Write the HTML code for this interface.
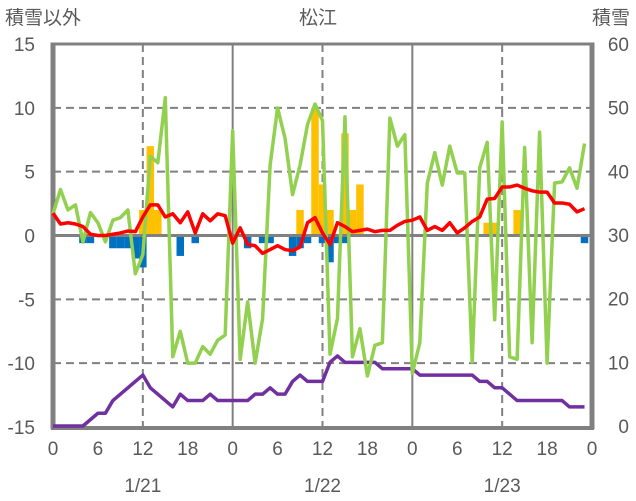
<!DOCTYPE html>
<html><head><meta charset="utf-8">
<style>
html,body{margin:0;padding:0;background:#fff;}
svg{display:block;font-family:"Liberation Sans","Noto Sans CJK JP",sans-serif;}
text{fill:#595959;}
</style></head>
<body>
<svg id="chart" width="636" height="501" viewBox="0 0 636 501" xmlns="http://www.w3.org/2000/svg">
<g id="grid"></g>
<g id="bars"></g>
<g id="frame"></g>
<g id="lines"></g>
<g id="labels"></g>
<text x="5" y="24" font-size="19">積雪以外</text>
<text x="318" y="24" font-size="19" text-anchor="middle">松江</text>
<text x="630" y="24" font-size="19" text-anchor="end">積雪</text>
</svg>
<script>
const hours = [...Array(72).keys()];
const greenVals = [1.7,3.6,2.0,2.4,-0.5,1.8,1.0,-0.5,1.2,1.4,2.0,-3.0,-1.5,6.2,5.7,10.8,-9.5,-7.5,-10,-10,-8.7,-9.3,-8.2,-7.8,
8.2,-9.7,-5.2,-10,-6.5,5.5,10,7.6,3.2,5.5,8.7,10.3,9.0,-9.3,-6.5,9.3,-9.5,-7.3,-11,-8.6,-8.4,9.2,7.0,7.9,
-10.8,-8.4,4.1,6.5,3.95,7.0,4.9,4.9,-9.9,5.3,7.3,-6.6,8.9,-9.5,-9.7,6.9,-8.4,8.1,-10,4.1,4.2,5.3,3.7,7.2];
const redVals = [1.75,0.9,1.0,0.9,0.7,0.1,0,0,0.1,0.2,0.35,0.3,1.45,2.4,2.4,1.45,1.7,1.0,1.85,0.2,1.7,1.15,1.7,1.55,
-0.6,0.6,-0.7,-0.8,-1.4,-1.1,-0.8,-1.1,-1.2,-0.9,1.0,1.4,0.2,-0.7,1.0,0.7,0.3,0.4,0.5,0.3,0.4,0.4,0.8,1.1,
1.2,1.45,0.4,0.7,0.4,1.0,0.2,0.6,1.1,1.45,2.85,2.9,3.8,3.8,3.95,3.7,3.5,3.4,3.4,2.55,2.55,2.45,1.85,2.1];
const snowVals = [0,0,0,0,0,1,2,2,4,5,6,7,8,6,5,4,3,5,4,4,4,5,4,4,
4,4,4,5,5,6,5,5,7,8,7,7,7,10,11,10,10,10,10,10,9,9,9,9,
9,8,8,8,8,8,8,8,8,7,7,6,6,5,4,4,4,4,4,4,4,3,3,3];
const orangeHours = [12,13,14,33,35,36,37,39,40,41,58,59,62];
const orangeVals = [2,7,2,2,10,4,2,8,2,4,1,1,2];
const blueHours = [4,5,8,9,10,11,12,17,19,26,28,29,32,33,34,36,37,38,39,71];
const blueVals = [-0.6,-0.6,-1,-1,-1,-1.8,-2.5,-1.6,-0.6,-1,-0.6,-0.6,-1.6,-1,-0.6,-0.6,-2.1,-0.6,-0.6,-0.6];
const leftTicks = [15,10,5,0,-5,-10,-15];
const rightTicks = [60,50,40,30,20,10,0];
const xTicks = [0,6,12,18,24,30,36,42,48,54,60,66,72];
const xTickLabels = ["0","6","12","18","0","6","12","18","0","6","12","18","0"];
const dateLabels = ["1/21","1/22","1/23"];
const dateHours = [12,36,60];

const L=53,R=592,T=44,B=427;
const NS="http://www.w3.org/2000/svg";
const x = h => L + (R-L)*h/72;
const yL = v => B - (B-T)*(v+15)/30;
const yR = v => B - 1 - (B-1-T)*v/60;
function mk(tag, parent, attrs){const e=document.createElementNS(NS,tag);for(const k in attrs)e.setAttribute(k,attrs[k]);document.getElementById(parent).appendChild(e);return e;}

[10,5,-5,-10].forEach(v=>{
  const e=mk('line','grid',{x1:L,x2:R,y1:yL(v),y2:yL(v),stroke:'#808080','stroke-width':2,'stroke-dasharray':'8,5'});
  
  
});
[12,36,60].forEach(h=>{
  const e=mk('line','grid',{x1:x(h),x2:x(h),y1:T,y2:B,stroke:'#808080','stroke-width':2,'stroke-dasharray':'8,5'});
  
  
});
[24,48].forEach(h=>{
  const e=mk('line','grid',{x1:x(h),x2:x(h),y1:T,y2:B,stroke:'#808080','stroke-width':2});
  
  
});
const bw=(R-L)/72;
orangeHours.forEach((h,i)=>{
  const v=orangeVals[i];
  const e=mk('rect','bars',{x:x(h)-bw/2,width:bw,y:yL(v),height:yL(0)-yL(v),fill:'#FFC000'});
  
  
});
blueHours.forEach((h,i)=>{
  const v=blueVals[i];
  const e=mk('rect','bars',{x:x(h)-bw/2,width:bw,y:yL(0),height:yL(v)-yL(0),fill:'#0070C0'});
  
  
});
const z=mk('line','bars',{x1:L,x2:R,y1:yL(0),y2:yL(0),stroke:'#808080','stroke-width':3});


function poly(vals,fy,color,name){
  const e=mk('polyline','lines',{points:hours.map(h=>x(h)+','+fy(vals[h])).join(' '),fill:'none',stroke:color,'stroke-width':3.5,'stroke-linejoin':'round'});
  
  
}
const f1=mk('line','frame',{x1:L,x2:R,y1:T,y2:T,stroke:'#808080','stroke-width':3});


const f2=mk('line','frame',{x1:L,x2:L,y1:T-1.5,y2:B+2,stroke:'#808080','stroke-width':5});


const f3=mk('line','frame',{x1:R,x2:R,y1:T-1.5,y2:B+2,stroke:'#808080','stroke-width':5});


const f4=mk('line','frame',{x1:L-2,x2:R+2,y1:B+1,y2:B+1,stroke:'#808080','stroke-width':4});


poly(snowVals,yR,'#7030A0','snow-depth-line');
poly(greenVals,yL,'#92D050','green-series-line');
poly(redVals,yL,'#FF0000','red-series-line');
leftTicks.forEach(v=>{
  const e=mk('text','labels',{x:35,y:yL(v)+7,'font-size':19,'text-anchor':'end'});
  e.textContent=v;
  
  
});
rightTicks.forEach(v=>{
  const e=mk('text','labels',{x:629,y:yR(v)+7,'font-size':19,'text-anchor':'end'});
  e.textContent=v;
  
  
});
xTicks.forEach((h,i)=>{
  const e=mk('text','labels',{x:x(h),y:455,'font-size':19,'text-anchor':'middle'});
  e.textContent=xTickLabels[i];
  
  
});
dateHours.forEach((h,i)=>{
  const e=mk('text','labels',{x:x(h),y:492,'font-size':19,'text-anchor':'middle'});
  e.textContent=dateLabels[i];
  
  
});
</script>
</body></html>
